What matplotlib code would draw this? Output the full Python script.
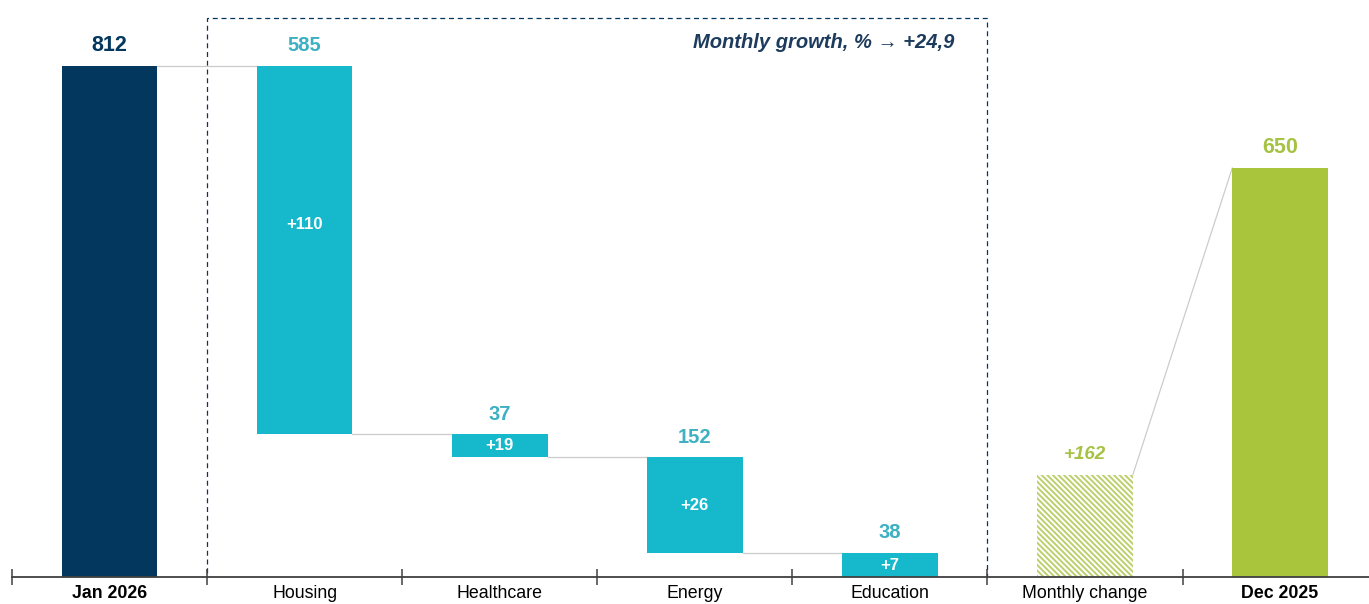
import matplotlib
matplotlib.use("Agg")
import matplotlib.pyplot as plt
from matplotlib.patches import Rectangle

# ---- data -------------------------------------------------------------
categories = ["Jan 2026", "Housing", "Healthcare", "Energy", "Education",
              "Monthly change", "Dec 2025"]
start_value = 812
component_values = [585, 37, 152, 38]          # Housing .. Education
component_growth = ["+110", "+19", "+26", "+7"]
change_value = 162
end_value = 650
growth_note = "Monthly growth, % \u2192 +24,9"

# ---- style --------------------------------------------------------------
NAVY = "#03375e"
TEAL = "#16b8cc"
TEAL_TXT = "#3db0c2"
GREEN = "#a9c53b"
GREEN_TXT = "#a6c244"
HATCH = "#bccf6c"
CONN = "#cccccc"
FONT = ["Liberation Sans", "DejaVu Sans"]
plt.rcParams["font.family"] = FONT
plt.rcParams["hatch.linewidth"] = 1.4
plt.rcParams["hatch.color"] = HATCH

fig = plt.figure(figsize=(13.69, 6.04), dpi=100)
ax = fig.add_axes([0, 27 / 604, 1, 577 / 604])
ax.set_xlim(-0.562, 6.456)
ax.set_ylim(0, 917)

W = 0.49
label_off = 14.5  # points above the bar top

# opening total
ax.bar(0, start_value, width=W, color=NAVY)
ax.annotate(str(start_value), (0, start_value), xytext=(0, label_off),
            textcoords="offset points", ha="center", va="center",
            fontsize=15.5, fontweight="bold", color=NAVY)

# descending components
inner_pos = [0.57, 0.5, 0.5, 0.5]
level = start_value
prev_right = 0 + W / 2
for i, (v, g, f) in enumerate(zip(component_values, component_growth, inner_pos), start=1):
    top = level
    bottom = level - v
    ax.plot([prev_right, i - W / 2], [top, top], color=CONN, lw=0.9, zorder=1)
    ax.bar(i, v, bottom=bottom, width=W, color=TEAL, zorder=2)
    ax.annotate(str(v), (i, top), xytext=(0, label_off),
                textcoords="offset points", ha="center", va="center",
                fontsize=14.5, fontweight="bold", color=TEAL_TXT)
    ax.text(i, bottom + v * f, g, ha="center", va="center",
            fontsize=12, fontweight="bold", color="white", zorder=3)
    level = bottom
    prev_right = i + W / 2

# monthly change (hatched)
ax.bar(5, change_value, width=W, facecolor="white", edgecolor=HATCH,
       hatch="\\\\\\\\\\\\", linewidth=0, zorder=2)
ax.annotate(f"+{change_value}", (5, change_value), xytext=(0, label_off),
            textcoords="offset points", ha="center", va="center",
            fontsize=13.5, fontweight="bold", fontstyle="italic", color=GREEN_TXT)

# closing total
ax.bar(6, end_value, width=W, color=GREEN, zorder=2)
ax.annotate(str(end_value), (6, end_value), xytext=(0, label_off),
            textcoords="offset points", ha="center", va="center",
            fontsize=15.5, fontweight="bold", color=GREEN_TXT)
ax.plot([5 + W / 2, 6 - W / 2], [change_value, end_value],
        color=CONN, lw=0.9, zorder=1)

# dashed frame around the components
ax.add_patch(Rectangle((0.5, 0), 4.0, 889, fill=False, edgecolor=NAVY,
                       linestyle=(0, (4, 3)), linewidth=0.9, zorder=0))
ax.text(4.333, 849, growth_note, ha="right", va="center", fontsize=14.5,
        fontweight="bold", fontstyle="italic", color="#1d3b5c")

# axis
for s in ["left", "right", "top"]:
    ax.spines[s].set_visible(False)
ax.spines["bottom"].set_bounds(-0.5, 6.456)
ax.spines["bottom"].set_color("#404040")
ax.spines["bottom"].set_linewidth(1.3)
ax.spines["bottom"].set_zorder(4)
ax.set_yticks([])
ax.set_xticks([i - 0.5 for i in range(len(categories))])
ax.set_xticklabels([])
ax.tick_params(axis="x", which="major", direction="inout", length=12,
               width=1.1, color="#404040")
ax.set_xticks(range(len(categories)), minor=True)
ax.set_xticklabels(categories, minor=True, fontsize=12.8)
ax.tick_params(axis="x", which="minor", length=0, pad=5.5)
for lbl in ax.get_xticklabels(minor=True):
    if lbl.get_text() in (categories[0], categories[-1]):
        lbl.set_fontweight("bold")

fig.savefig("out.png", dpi=100)
